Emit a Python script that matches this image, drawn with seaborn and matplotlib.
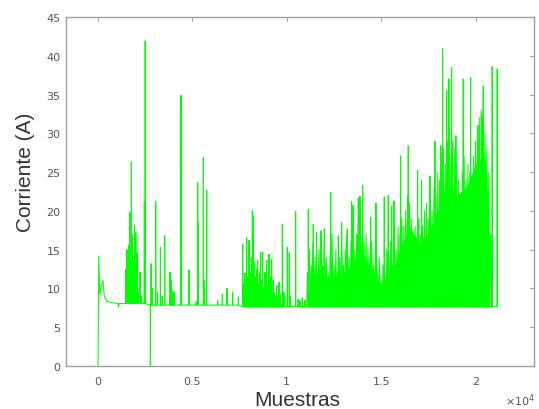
import numpy as np
import matplotlib
matplotlib.use('Agg')
import matplotlib.pyplot as plt
import seaborn as sns

# ── Data ───────────────────────────────────────────────────────────────────
# start-up transient (sample, current)
start_s = [0, 35, 90, 200, 260, 330, 450, 650, 900, 1050, 1080, 1110, 1300, 1450]
start_v = [0, 14.2, 9.2, 10.6, 11.0, 9.0, 8.4, 8.2, 8.1, 8.1, 7.6, 8.05, 8.05, 8.05]

# isolated spikes / dips (sample, peak current)
spike_s = [1480, 1530, 1580, 1620, 1680, 1720, 1765, 1800, 1850, 1900, 1925, 1960,
           2000, 2040, 2080, 2120, 2225, 2300, 2450, 2495, 2772, 2810, 2870,
           3054, 3150, 3302, 3400, 3530, 3813, 3870, 3950, 4030, 4396, 4420,
           4820, 5200, 5280, 5300, 5580, 5620, 5755, 6340, 6585, 6833, 7133, 7433,
           7662, 7720, 7780, 7874, 7930, 7998, 8060, 8120, 8175, 8210, 8260, 8330,
           8400, 8457, 8520, 8570, 8615, 8670, 8720, 8780, 8845, 8933, 8990, 9057,
           9120, 9198, 9286, 9350, 9463, 9587, 9650, 9764, 9850, 10027, 10133, 10200,
           10470, 10600, 10700, 10820, 10960,
           11140, 11405, 11580, 11811, 11987, 12325, 12730, 12908, 13205, 13437,
           13520, 13788, 13877, 14020, 14445, 14725, 15165, 15376, 15556, 15678,
           16033, 16436, 16933, 17145, 17585, 17850, 18167, 18257, 18469, 18591,
           18734, 18962, 19350, 19740, 20198, 20323, 20410, 20885, 21150]
spike_v = [12.5, 15.0, 13.2, 15.6, 19.8, 14.0, 26.3, 17.0, 13.5, 11.0, 18.1, 12.5,
           17.2, 10.5, 14.6, 9.5, 12.1, 9.0, 21.2, 41.9, 0.0, 13.2, 10.0,
           21.2, 9.5, 15.3, 9.0, 16.8, 12.1, 11.0, 9.7, 9.5, 34.9, 33.5,
           12.4, 8.3, 23.7, 18.5, 26.9, 11.0, 22.7, 8.4, 9.3, 10.0, 9.5, 8.9,
           15.7, 10.5, 12.0, 16.6, 11.5, 16.2, 12.0, 14.0, 20.0, 19.4, 13.4, 11.5,
           12.5, 13.6, 10.5, 12.0, 14.7, 11.0, 14.7, 10.0, 12.1, 13.6, 10.5, 14.4,
           11.5, 13.8, 11.0, 9.5, 10.4, 10.8, 9.2, 18.3, 9.5, 15.3, 14.6, 9.0,
           19.9, 8.6, 8.4, 8.8, 8.5,
           20.2, 18.3, 17.2, 17.4, 17.7, 22.4, 16.8, 18.5, 17.7, 21.2,
           20.7, 21.7, 21.9, 23.3, 19.2, 21.0, 21.8, 22.0, 20.6, 21.3,
           27.1, 28.4, 25.2, 23.9, 24.5, 29.0, 28.4, 40.9, 35.5, 37.0,
           38.5, 29.7, 37.0, 37.2, 31.0, 32.5, 36.1, 38.6, 38.3]

# dense body of the signal, every 100 samples from 11100
core_s = np.arange(11100, 20900, 100)
core_v = [12, 15, 13, 16, 14, 12, 15, 17, 13,
          16, 14, 12, 15, 17, 13, 15, 12, 14, 16,
          13, 15, 17, 14, 16, 18, 15, 17, 19, 20,
          18, 16, 17, 15, 14, 16, 13, 15, 12, 14,
          11, 13, 12, 15, 14, 16, 13, 17, 15, 18,
          17, 19, 18, 20, 22, 21, 19, 17, 18, 16,
          19, 17, 18, 20, 21, 19, 22, 20, 23, 22,
          25, 24, 27, 28, 26, 29, 30, 27, 29, 28,
          26, 24, 22, 25, 27, 24, 26, 25, 23, 27,
          29, 31, 32, 33, 32, 30, 28, 25, 17]

# top of the solid (fully overlapped) part of the trace
band_s = [7600, 8000, 8500, 9000, 9500, 9800,
          11100, 11500, 12000, 12500, 13000, 13500, 14000, 14500, 15000, 15500,
          16000, 16500, 17000, 17500, 18000, 18500, 19000, 19500, 20000, 20500,
          20700, 20750]
band_top = [8.5, 10.0, 10.5, 10.0, 9.0, 7.65,
            9.5, 11.0, 11.5, 11.5, 12.0, 13.5, 14.5, 12.5, 10.5, 11.5,
            15.0, 18.0, 16.0, 17.0, 20.0, 24.0, 22.0, 23.0, 26.0, 27.0,
            20.0, 7.65]

# resting level between spikes
base_edges = [2700, 7500]
base_levels = [8.05, 7.85, 7.65]
end_sample = 21170

# x axis ticks
xtick_pos = [0, 5000, 10000, 15000, 20000]
xtick_lab = ['0', '0.5', '1', '1.5', '2']

GREEN = '#00ff00'


def build_trace():
    xs, ys = list(start_s), list(start_v)
    events = [(s, v, 8) for s, v in zip(spike_s, spike_v)]
    events += [(s, v, 50) for s, v in zip(core_s, core_v)]
    events.sort()
    for s, v, w in events:
        b = base_levels[np.searchsorted(base_edges, s)]
        xs += [s - w, s, s + w]
        ys += [b, v, b]
    xs.append(end_sample)
    ys.append(base_levels[-1])
    return xs, ys


sns.set_style('white')
plt.rcParams['font.family'] = ['DejaVu Sans']

fig = plt.figure(figsize=(5.39, 4.10), dpi=100)
ax = fig.add_axes([66 / 539, 1 - 367 / 410, 468 / 539, 349 / 410])

# solid part of the dense regions (split at the quiet gap)
gap = band_s.index(11100)
for seg in (slice(0, gap), slice(gap, None)):
    ax.fill_between(band_s[seg], base_levels[-1], band_top[seg],
                    color=GREEN, linewidth=0)

xs, ys = build_trace()
sns.lineplot(x=xs, y=ys, sort=False, estimator=None, ax=ax,
             color=GREEN, linewidth=0.75)

ax.set_xlim(-1700, 23100)
ax.set_ylim(0, 45)
ax.set_xticks(xtick_pos)
ax.set_xticklabels(xtick_lab)
ax.set_yticks(range(0, 46, 5))

for sp in ax.spines.values():
    sp.set_color('#a0a0a0')
    sp.set_linewidth(1.0)
ax.tick_params(direction='in', length=3, width=0.8, color='#a0a0a0',
               labelcolor='#555555', labelsize=8, top=True, right=True)
ax.tick_params(axis='x', pad=7)
ax.tick_params(axis='y', pad=4)

lab_font = ['Liberation Sans', 'DejaVu Sans']
ax.set_xlabel('Muestras', fontsize=15, color='#333333', family=lab_font,
              va='baseline')
ax.xaxis.set_label_coords(0.495, -0.112)
ax.set_ylabel('Corriente (A)', fontsize=15, color='#333333', family=lab_font,
              va='baseline')
ax.yaxis.set_label_coords(-0.0748, 0.557)

fig.text(505 / 539, 1 - 406 / 410, r'$\times10^{4}$', fontsize=8,
         color='#555555', ha='left', va='baseline')

fig.savefig('out.png', dpi=100)
